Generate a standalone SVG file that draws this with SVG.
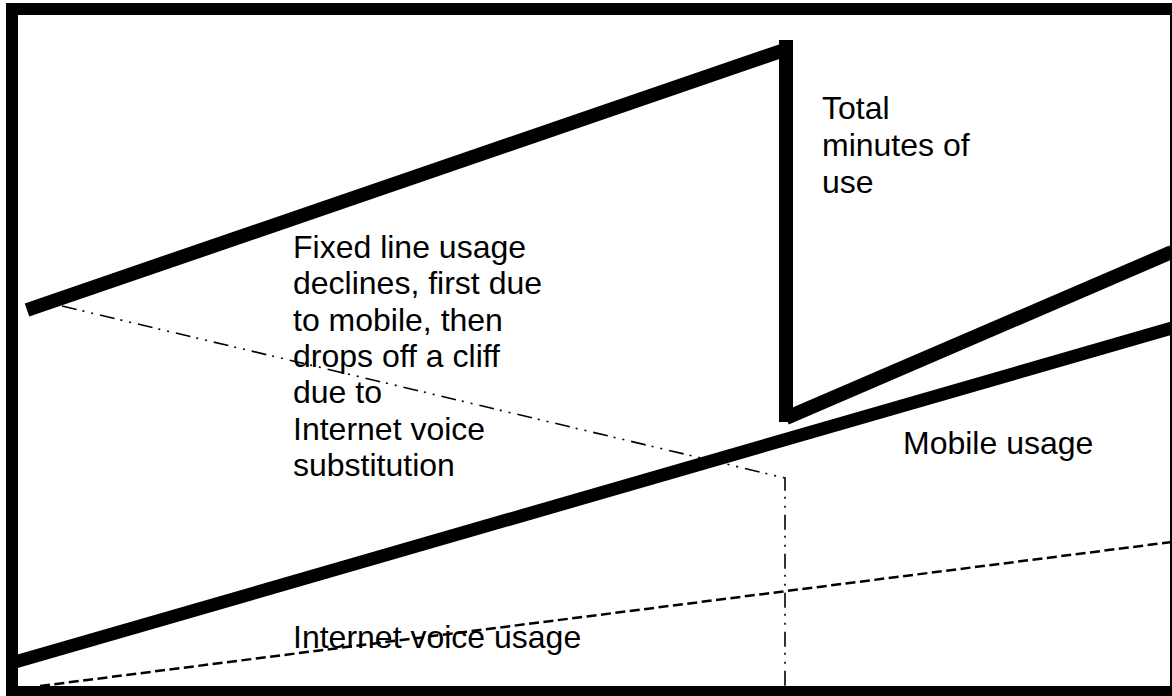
<svg xmlns="http://www.w3.org/2000/svg" width="1172" height="696" viewBox="0 0 1172 696">
  <style>
    .frame { fill: #ffffff; stroke: #000000; stroke-width: 12; }
    .thick { fill: none; stroke: #000000; stroke-width: 14; stroke-linecap: butt; }
    .mobile { fill: none; stroke: #000000; stroke-width: 13; stroke-linecap: butt; }
    .fixed { fill: none; stroke: #000000; stroke-width: 1.6; stroke-dasharray: 15 6 2 7 2 7; }
    .voip { fill: none; stroke: #000000; stroke-width: 2.5; stroke-dasharray: 10 4.5; }
    .label { font-family: "Liberation Sans", Arial, sans-serif; font-size: 32px; fill: #000000; }
  </style>

  <!-- outer frame -->
  <rect class="frame" x="12" y="9" width="1164" height="683"/>

  <g id="connectors">
    <!-- total minutes of use: rise, sudden drop, rise again -->
    <g id="total-minutes">
      <line class="thick" x1="27" y1="310" x2="790" y2="48"/>
      <line class="thick" x1="786" y1="40" x2="786" y2="422"/>
      <line class="thick" x1="786" y1="418" x2="1172" y2="252"/>
    </g>
    <!-- mobile usage -->
    <line id="mobile-line" class="mobile" x1="15" y1="662" x2="1172" y2="328"/>
    <!-- fixed line usage -->
    <polyline id="fixed-line" class="fixed" points="62,306 785,478 785,686"/>
    <!-- internet voice usage -->
    <line id="voip-line" class="voip" x1="40" y1="686" x2="1172" y2="542"/>
  </g>

  <g id="label-total">
    <text class="label" x="822" y="119">Total</text>
    <text class="label" x="822" y="156">minutes of</text>
    <text class="label" x="822" y="193">use</text>
  </g>

  <g id="label-fixed">
    <text class="label" x="293" y="258">Fixed line usage</text>
    <text class="label" x="293" y="294">declines, first due</text>
    <text class="label" x="293" y="331">to mobile, then</text>
    <text class="label" x="293" y="367">drops off a cliff</text>
    <text class="label" x="293" y="403">due to</text>
    <text class="label" x="293" y="440">Internet voice</text>
    <text class="label" x="293" y="476">substitution</text>
  </g>

  <g id="label-mobile">
    <text class="label" x="903" y="454">Mobile usage</text>
  </g>

  <g id="label-voip">
    <text class="label" x="293" y="648">Internet voice usage</text>
  </g>
</svg>
